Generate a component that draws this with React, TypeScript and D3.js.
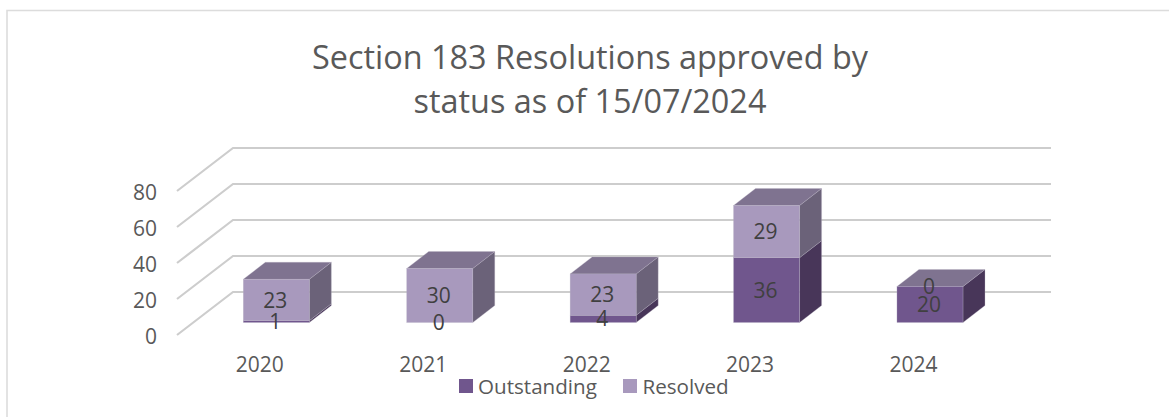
import React from "react";
import * as d3 from "d3";

const categories = ["2020", "2021", "2022", "2023", "2024"];
const outstanding = [1, 0, 4, 36, 20];
const resolved = [23, 30, 23, 29, 0];
const yTicks = [0, 20, 40, 60, 80];
const titleLines = ["Section 183 Resolutions approved by", "status as of 15/07/2024"];
const legendItems = ["Outstanding", "Resolved"];

const FONT = "'Open Sans', sans-serif";
const TEXT = "#595959";
const LABEL = "#404040";
const GRID = "#cdcdcd";
const COLORS = {
  Outstanding: { front: "#70568d", top: "#7f7390", side: "#483659" },
  Resolved: { front: "#a899bd", top: "#7f7390", side: "#6b6279" },
};

const y = d3.scaleLinear().domain([0, 80]).range([335, 191]);
const barY = d3.scaleLinear().domain([0, 80]).range([322.5, 178.5]);
const x = d3.scaleBand().domain(categories).range([194.3, 1012]).paddingInner(0.596).paddingOuter(0.3);
const DX = 22;
const DY = -17;
const WALL_DX = 56;
const WALL_DY = -43;

function Box({ x0, w, y0, y1, c, top }: any) {
  const p = (a: number[][]) => a.map((d) => d.join(",")).join(" ");
  return (
    <g stroke="#b9b2c4" strokeWidth={0.5} strokeOpacity={0.6}>
      <polygon points={p([[x0 + w, y0], [x0 + w + DX, y0 + DY], [x0 + w + DX, y1 + DY], [x0 + w, y1]])} fill={c.side} />
      {top && <polygon points={p([[x0, y1], [x0 + DX, y1 + DY], [x0 + w + DX, y1 + DY], [x0 + w, y1]])} fill={c.top} />}
      <rect x={x0} y={y1} width={w} height={y0 - y1} fill={c.front} />
    </g>
  );
}

export default function App() {
  return (
    <svg width={1169} height={417} style={{ position: "absolute", left: 0, top: 0, background: "#fff" }} fontFamily={FONT}>
      <path d="M7 417V10.5H1169" fill="none" stroke="#dcdcdc" strokeWidth={1.6} />
      {titleLines.map((t, i) => (
        <text key={t} x={590} y={68.5 + i * 44.5} textAnchor="middle" fontSize={32.4} fill={TEXT}>{t}</text>
      ))}
      {yTicks.map((t) => (
        <path key={t} d={`M${177},${y(t)}L${177 + WALL_DX},${y(t) + WALL_DY}H1051`} fill="none" stroke={GRID} strokeWidth={2.2} />
      ))}
      {yTicks.map((t) => (
        <text key={t} x={157} y={y(t) + 9} textAnchor="end" fontSize={21} fill={TEXT}>{t}</text>
      ))}
      {categories.map((cat, i) => {
        const x0 = x(cat)!;
        const w = x.bandwidth();
        const o = outstanding[i];
        const r = resolved[i];
        const total = o + r;
        return (
          <g key={cat}>
            {o > 0 && <Box x0={x0} w={w} y0={barY(0)} y1={barY(o)} c={COLORS.Outstanding} top={r === 0} />}
            {r > 0 && <Box x0={x0} w={w} y0={barY(o)} y1={barY(total)} c={COLORS.Resolved} top />}
          </g>
        );
      })}
      {categories.map((cat, i) => {
        const cx = x(cat)! + x.bandwidth() / 2 - 1;
        const o = outstanding[i];
        const r = resolved[i];
        return (
          <g key={cat} fontSize={21} fill={LABEL} textAnchor="middle">
            <text x={cx} y={barY(o / 2) + 7.5}>{o}</text>
            <text x={cx} y={barY(o + r / 2) + 7.5}>{r}</text>
            <text x={x(cat)! + 16.5} y={372} fill={TEXT}>{cat}</text>
          </g>
        );
      })}
      <rect x={459} y={379} width={14} height={14} fill={COLORS.Outstanding.front} />
      <text x={478} y={394} fontSize={20.6} fill={TEXT}>{legendItems[0]}</text>
      <rect x={623} y={379} width={14} height={14} fill={COLORS.Resolved.front} />
      <text x={642.5} y={394} fontSize={20.6} fill={TEXT}>{legendItems[1]}</text>
    </svg>
  );
}
